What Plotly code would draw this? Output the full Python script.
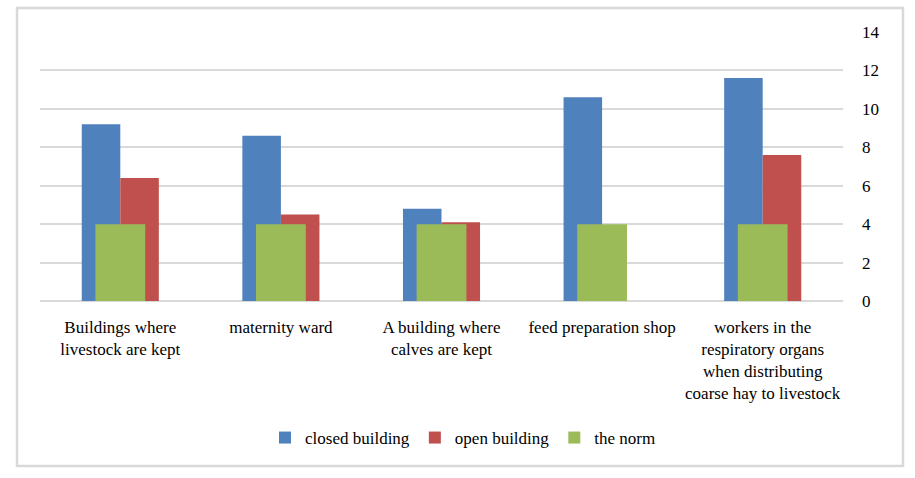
import plotly.graph_objects as go

categories = [
    "Buildings where<br>livestock are kept",
    "maternity ward",
    "A building where<br>calves are kept",
    "feed preparation shop",
    "workers in the<br>respiratory organs<br>when distributing<br>coarse hay to livestock",
]
closed_building = [9.2, 8.6, 4.8, 10.6, 11.6]
open_building = [6.4, 4.5, 4.1, 0, 7.6]
the_norm = [4, 4, 4, 4, 4]
y_ticks = [0, 2, 4, 6, 8, 10, 12, 14]

FONT = "Liberation Serif"

fig = go.Figure()
fig.add_trace(go.Bar(name="closed building", x=categories, y=closed_building,
                     marker=dict(color="#4f81bd", line=dict(width=0)),
                     width=0.24, offset=-0.24))
fig.add_trace(go.Bar(name="open building", x=categories, y=open_building,
                     marker=dict(color="#c0504d", line=dict(width=0)),
                     width=0.24, offset=0))
fig.add_trace(go.Bar(name="the norm", x=categories, y=the_norm,
                     marker=dict(color="#9bbb59", line=dict(width=0)),
                     width=0.31, offset=-0.155))

L, R, T, B = 40, 843, 32, 301
W, H = 915, 478
pw, ph = R - L, B - T

def px(x):
    return (x - L) / pw

def py(y):
    return (B - y) / ph

fig.update_layout(
    width=W, height=H,
    margin=dict(l=L, r=W - R, t=T, b=H - B, pad=0),
    barmode="overlay",
    paper_bgcolor="white",
    plot_bgcolor="white",
    font=dict(family=FONT, size=17, color="black"),
    showlegend=True,
    legend=dict(orientation="h", x=px(463), xanchor="center", y=py(438), yanchor="middle",
                font=dict(family=FONT, size=17, color="black"),
                itemwidth=30, tracegroupgap=0, traceorder="normal"),
    xaxis=dict(showgrid=False, showline=False, zeroline=False, ticks="",
               tickfont=dict(family=FONT, size=17, color="black"),
               ticklabelstandoff=14, range=[-0.5, 4.5], fixedrange=True),
    yaxis=dict(side="right", range=[0, 14], tickvals=y_ticks,
               showgrid=True, gridcolor="#d9d9d9", gridwidth=1.5,
               zeroline=True, zerolinecolor="#d9d9d9", zerolinewidth=1.5,
               showline=False, ticks="", ticklabelstandoff=18,
               tickfont=dict(family=FONT, size=17, color="black")),
    shapes=[dict(type="rect", xref="paper", yref="paper",
                 x0=px(17), x1=px(903), y0=py(466), y1=py(8),
                 line=dict(color="#d9d9d9", width=2.5), fillcolor="rgba(0,0,0,0)",
                 layer="below")],
)

fig.write_html("out.html", config={"displayModeBar": False},
               post_script="document.body.style.margin='0px';document.body.style.overflow='hidden';")
